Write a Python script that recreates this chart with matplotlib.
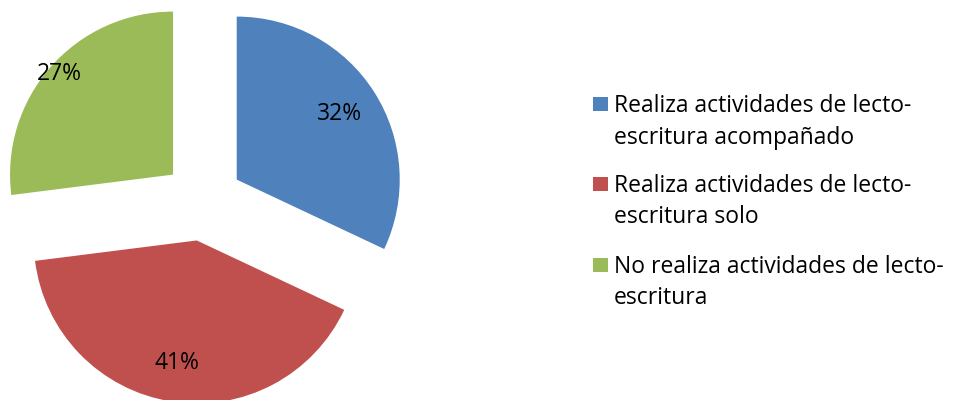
import numpy as np
import matplotlib.pyplot as plt
from matplotlib.patches import Rectangle

plt.rcParams['font.family'] = ['Open Sans', 'DejaVu Sans']

# Chart data
categories = [
    "Realiza actividades de lecto-\nescritura acompañado",
    "Realiza actividades de lecto-\nescritura solo",
    "No realiza actividades de lecto-\nescritura",
]
percents = [32, 41, 27]
colors = ['#4F81BD', '#C0504D', '#9BBB59']

# distance of each percent label from its slice tip (fraction of radius)
label_dist = [0.75, 0.76, 0.93]

W, H = 954, 400
fig = plt.figure(figsize=(W / 100, H / 100), dpi=100)

# pie axes: 163 px per data unit, pie centre at (203, 201) px from top-left
scale = 163.0
ax_w = 429
cx, cy = 203, 201
ax = fig.add_axes([0, 0, ax_w / W, 1])
wedges, _ = ax.pie(percents, colors=colors, startangle=90, counterclock=False,
                   explode=[0.245] * len(percents), radius=1.0)
ax.set_xlim(-cx / scale, (ax_w - cx) / scale)
ax.set_ylim(-(H - cy) / scale, cy / scale)
ax.set_aspect('auto')
ax.axis('off')

for w, p, d in zip(wedges, percents, label_dist):
    mid = np.deg2rad((w.theta1 + w.theta2) / 2)
    x0, y0 = w.center
    ax.text(x0 + d * np.cos(mid), y0 + d * np.sin(mid), f"{p}%",
            ha='center', va='center', fontsize=16.5, color='black')

# legend drawn by hand so the marker lines up with the first text line
first_y = [106, 186, 267]
line_gap = 31.5
for lab, col, y in zip(categories, colors, first_y):
    fig.patches.append(Rectangle((593 / W, 1 - (y + 5) / H), 15 / W, 14 / H,
                                 transform=fig.transFigure, facecolor=col,
                                 edgecolor='none'))
    for i, line in enumerate(lab.split("\n")):
        fig.text(614 / W, 1 - (y + i * line_gap) / H, line, ha='left',
                 va='center', fontsize=16.5, color='black')

fig.savefig('out.png', dpi=100)
